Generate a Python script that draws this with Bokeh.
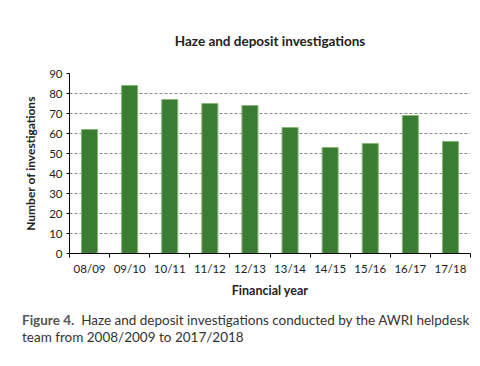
from bokeh.plotting import figure
from bokeh.models import FixedTicker, Range1d, Div
from bokeh.layouts import column
from bokeh.embed import file_html
from bokeh.resources import INLINE

years = ["08/09", "09/10", "10/11", "11/12", "12/13", "13/14", "14/15", "15/16", "16/17", "17/18"]
counts = [62, 84, 77, 75, 74, 63, 53, 55, 69, 56]
y_ticks = [0, 10, 20, 30, 40, 50, 60, 70, 80, 90]

title_text = "Haze and deposit investigations"
caption_label = "Figure 4."
caption_line1 = "Haze and deposit investigations conducted by the AWRI helpdesk"
caption_line2 = "team from 2008/2009 to 2017/2018"

FONT = "Lato"
xs = [i + 0.5 for i in range(len(years))]

p = figure(width=480, height=305, output_backend="svg", toolbar_location=None,
           x_range=Range1d(0, len(years)), y_range=Range1d(0, 90),
           min_border_left=69, min_border_right=10, min_border_top=73, min_border_bottom=52)
p.outline_line_color = None
p.background_fill_color = "white"

p.title.text = title_text
p.title.align = "center"
p.title.offset = 3
p.title.standoff = 50
p.title.text_font = FONT
p.title.text_font_style = "bold"
p.title.text_font_size = "13.5px"
p.title.text_color = "#222222"

p.vbar(x=xs, top=counts, width=0.4, fill_color="#3a7d32", line_color="#86b878", line_width=1)

# x axis
p.xaxis.ticker = FixedTicker(ticks=xs, minor_ticks=list(range(len(years) + 1)))
p.xaxis.major_label_overrides = {x: y for x, y in zip(xs, years)}
p.xaxis.major_tick_out = 0
p.xaxis.major_tick_in = 0
p.xaxis.minor_tick_out = 4
p.xaxis.minor_tick_in = 0
p.xaxis.minor_tick_line_color = "black"
p.xaxis.axis_line_color = "black"
p.xaxis.major_label_text_font = FONT
p.xaxis.major_label_text_font_size = "11.5px"
p.xaxis.major_label_text_color = "#222222"
p.xaxis.major_label_standoff = 4
p.xaxis.axis_label = "Financial year"
p.xaxis.axis_label_text_font = FONT
p.xaxis.axis_label_text_font_style = "bold"
p.xaxis.axis_label_text_font_size = "12.5px"
p.xaxis.axis_label_text_color = "#222222"
p.xaxis.axis_label_standoff = 5

# y axis
p.yaxis.ticker = FixedTicker(ticks=y_ticks, minor_ticks=[])
p.yaxis.major_tick_out = 3
p.yaxis.major_tick_in = 0
p.yaxis.axis_line_color = "black"
p.yaxis.major_label_text_font = FONT
p.yaxis.major_label_text_font_size = "11.5px"
p.yaxis.major_label_text_color = "#222222"
p.yaxis.major_label_standoff = 4
p.yaxis.axis_label = "Number of investigations"
p.yaxis.axis_label_text_font = FONT
p.yaxis.axis_label_text_font_style = "bold"
p.yaxis.axis_label_text_font_size = "12px"
p.yaxis.axis_label_text_color = "#222222"
p.yaxis.axis_label_standoff = 8

p.xgrid.grid_line_color = None
p.ygrid.grid_line_color = "#8a8a8a"
p.ygrid.grid_line_dash = "3 2"
p.ygrid.grid_line_width = 1

cap = Div(text=(f'<span style="font-weight:bold;color:#555555;margin-right:7px">{caption_label}</span>'
                f'<span>{caption_line1}</span><br><span>{caption_line2}</span>'),
          width=470, height=61,
          styles={"font-family": FONT, "font-size": "13.5px", "line-height": "17px", "color": "#333333",
                  "padding-top": "2px", "margin-left": "22px", "white-space": "nowrap"})

layout = column(p, cap, spacing=0)
open("out.html", "w").write(file_html(layout, INLINE))
